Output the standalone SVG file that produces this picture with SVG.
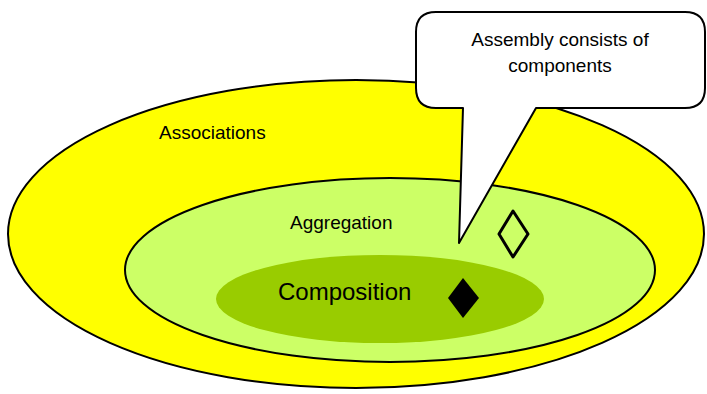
<svg xmlns="http://www.w3.org/2000/svg" width="707" height="394" viewBox="0 0 707 394">
  <style>
    .lbl { font-family: "Liberation Sans", Arial, sans-serif; fill: #000; }
    .ring { stroke: #000; stroke-width: 2; }
  </style>
  <rect width="707" height="394" fill="#fff"/>
  <g id="associations">
    <ellipse class="ring" cx="356" cy="234" rx="348" ry="154" fill="#ffff00"/>
    <text class="lbl" x="159" y="139" font-size="19">Associations</text>
  </g>
  <g id="aggregation">
    <ellipse class="ring" cx="390" cy="270" rx="265" ry="92" fill="#ccff66"/>
    <text class="lbl" x="290" y="229" font-size="19">Aggregation</text>
  </g>
  <g id="composition">
    <ellipse cx="380" cy="299" rx="164" ry="44" fill="#99cc00"/>
    <text class="lbl" x="278" y="300" font-size="24">Composition</text>
  </g>
  <g id="callout">
    <path d="M436,12 H685 Q705,12 705,32 V88 Q705,108 685,108 H536 L459,243 L463,108 H436 Q416,108 416,88 V32 Q416,12 436,12 Z" fill="#fff" stroke="#000" stroke-width="2" stroke-linejoin="round"/>
    <text class="lbl" x="560" y="46" font-size="19" text-anchor="middle">Assembly consists of</text>
    <text class="lbl" x="560" y="72" font-size="19" text-anchor="middle">components</text>
  </g>
  <g id="connectors">
    <polygon id="hollow-diamond" points="513,211 528,234 513,257 499,234" fill="none" stroke="#000" stroke-width="3" stroke-linejoin="round"/>
    <polygon id="filled-diamond" points="463,278 479,298 463,318 448,298" fill="#000"/>
  </g>
</svg>
